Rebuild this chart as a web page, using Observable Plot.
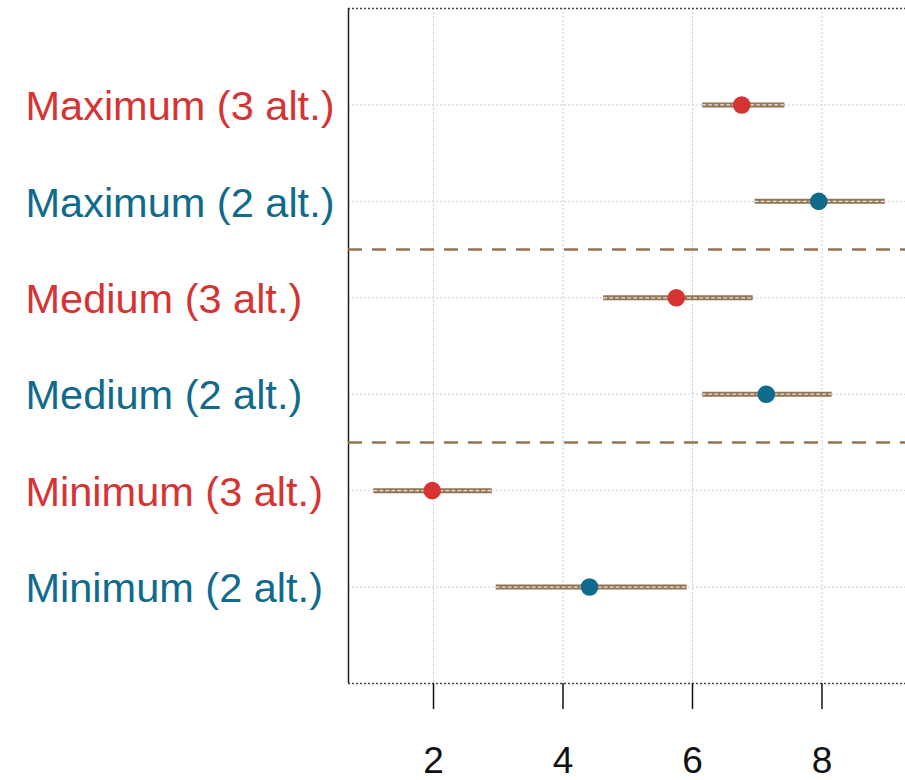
<!DOCTYPE html>
<html>
<head>
<meta charset="utf-8">
<script src="https://cdn.jsdelivr.net/npm/d3@7"></script>
<script src="https://cdn.jsdelivr.net/npm/@observablehq/plot@0.6"></script>
<style>
  html, body { margin: 0; padding: 0; background: #fff; }
  #chart svg { display: block; }
</style>
</head>
<body>
<div id="chart"></div>
<script>
// Data
const labels = ["Maximum (3 alt.)", "Maximum (2 alt.)", "Medium (3 alt.)", "Medium (2 alt.)", "Minimum (3 alt.)", "Minimum (2 alt.)"];
const groups = ["3 alt.", "2 alt.", "3 alt.", "2 alt.", "3 alt.", "2 alt."];
const estimates = [6.76, 7.95, 5.75, 7.14, 1.98, 4.41];
const lower = [6.15, 6.96, 4.62, 6.15, 1.07, 2.96];
const upper = [7.42, 8.97, 6.93, 8.15, 2.90, 5.91];
const positions = [1, 2, 3, 4, 5, 6];
const separators = [2.5, 4.5];
const xTicks = [2, 4, 6, 8];

const groupColor = {"3 alt.": "#d63333", "2 alt.": "#0f6a8c"};
const brown = "#917555";

const rows = labels.map((label, i) => ({
  label, group: groups[i], pos: positions[i],
  est: estimates[i], lo: lower[i], hi: upper[i],
  color: groupColor[groups[i]]
}));

const chart = Plot.plot({
  width: 905,
  height: 780,
  marginLeft: 348,
  marginRight: 0,
  marginTop: 8,
  marginBottom: 97,
  style: {fontFamily: "'Liberation Sans', Arial, sans-serif", background: "#fff"},
  x: {domain: [0.687, 9.29], label: null},
  y: {domain: [0, 7], reverse: true, axis: null},
  marks: [
    // grid
    Plot.ruleX(xTicks, {stroke: "#cfcfcf", strokeDasharray: "2,2", strokeWidth: 1}),
    Plot.ruleY(positions, {stroke: "#cfcfcf", strokeDasharray: "2,2", strokeWidth: 1}),
    // frame: dotted top & bottom, solid left
    Plot.ruleY([0, 7], {stroke: "#444", strokeDasharray: "2,2", strokeWidth: 1.3}),
    Plot.ruleX([0.687], {stroke: "#222", strokeWidth: 1.5}),
    // separators
    Plot.ruleY(separators, {stroke: brown, strokeWidth: 2.5, strokeDasharray: "14,10"}),
    // intervals
    Plot.link(rows, {x1: "lo", x2: "hi", y1: "pos", y2: "pos", stroke: brown, strokeWidth: 5}),
    Plot.link(rows, {x1: "lo", x2: "hi", y1: "pos", y2: "pos", stroke: "#fff", strokeWidth: 1.3, strokeDasharray: "4,2", strokeOpacity: 0.8}),
    // points
    Plot.dot(rows, {x: "est", y: "pos", r: 8.8, fill: "color", stroke: null}),
    // labels
    Plot.text(rows, {y: "pos", text: "label", fill: "color", frameAnchor: "left", dx: -323, dy: 2, textAnchor: "start", fontSize: 41.5}),
    // x axis
    Plot.axisX({ticks: xTicks, tickSize: 26, tickPadding: 37, fontSize: 37, stroke: "#111", strokeWidth: 1.5, label: null, tickFormat: d3.format("d"), color: "#111"})
  ]
});

document.getElementById("chart").appendChild(chart);
</script>
</body>
</html>
